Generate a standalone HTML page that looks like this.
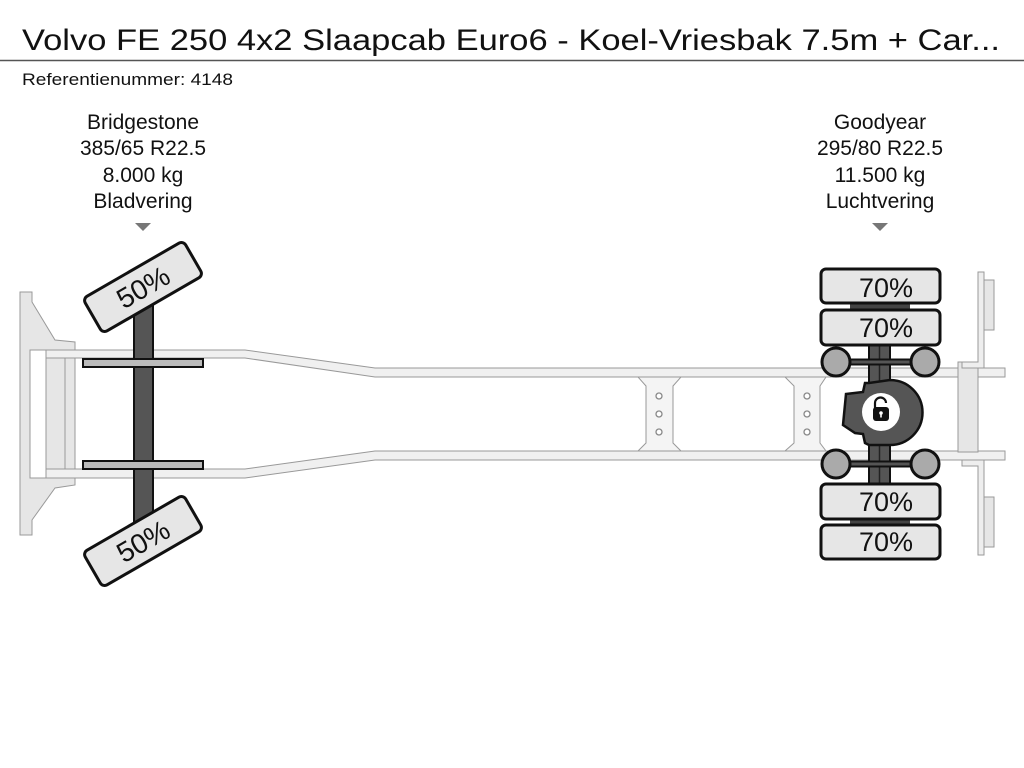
<!DOCTYPE html>
<html><head><meta charset="utf-8"><style>
html,body{margin:0;padding:0;background:#fff;width:1024px;height:768px;overflow:hidden}
svg{display:block}
text{font-family:"Liberation Sans",sans-serif;fill:#111}
</style></head><body>
<svg width="1024" height="768" viewBox="0 0 1024 768">
<text x="22" y="50" font-size="30" textLength="978" lengthAdjust="spacingAndGlyphs">Volvo FE 250 4x2 Slaapcab Euro6 - Koel-Vriesbak 7.5m + Car...</text>
<line x1="0" y1="60.5" x2="1024" y2="60.5" stroke="#555" stroke-width="1.5"/>
<text x="22" y="85" font-size="17" textLength="211" lengthAdjust="spacingAndGlyphs">Referentienummer: 4148</text>

<g font-size="21" text-anchor="middle">
<text x="143" y="129">Bridgestone</text><text x="143" y="155">385/65 R22.5</text><text x="143" y="182">8.000 kg</text><text x="143" y="208">Bladvering</text>
<text x="880" y="129">Goodyear</text><text x="880" y="155">295/80 R22.5</text><text x="880" y="182">11.500 kg</text><text x="880" y="208">Luchtvering</text>
</g>
<polygon points="135,223 151,223 143,231" fill="#777"/>
<polygon points="872,223 888,223 880,231" fill="#777"/>

<polygon points="20,292 32,292 32,302 55,340 75,342 75,485 55,488 32,520 32,535 20,535" fill="#e6e6e6" stroke="#999" stroke-width="1"/>
<rect x="30" y="350" width="16" height="128" fill="#fff" stroke="#999"/>
<rect x="46" y="358" width="19" height="112" fill="#e6e6e6" stroke="#999"/>

<polygon points="46,350 245,350 375,368 1005,368 1005,377 375,377 245,358 46,358" fill="#f0f0f0" stroke="#999"/>
<polygon points="46,469 245,469 375,451 1005,451 1005,460 375,460 245,478 46,478" fill="#f0f0f0" stroke="#999"/>

<polygon points="638,377 681,377 673,386 673,443 681,451 638,451 646,443 646,386" fill="#f4f4f4" stroke="#999"/>
<polygon points="785,377 826,377 820,386 820,443 826,451 785,451 794,443 794,386" fill="#f4f4f4" stroke="#999"/>
<g fill="#fff" stroke="#888" stroke-width="1.3">
<circle cx="659" cy="396" r="3"/><circle cx="659" cy="414" r="3"/><circle cx="659" cy="432" r="3"/>
<circle cx="807" cy="396" r="3"/><circle cx="807" cy="414" r="3"/><circle cx="807" cy="432" r="3"/>
</g>

<rect x="958" y="362" width="20" height="90" fill="#e6e6e6" stroke="#999"/>
<polygon points="978,272 984,272 984,368 962,368 962,362 978,362" fill="#eee" stroke="#999"/>
<polygon points="978,555 984,555 984,460 962,460 962,466 978,466" fill="#eee" stroke="#999"/>
<rect x="984" y="280" width="10" height="50" fill="#e6e6e6" stroke="#999"/>
<rect x="984" y="497" width="10" height="50" fill="#e6e6e6" stroke="#999"/>

<rect x="134" y="300" width="19" height="225" fill="#555" stroke="#111" stroke-width="2"/>
<rect x="83" y="359" width="120" height="8" fill="#bbb" stroke="#111" stroke-width="2"/>
<rect x="83" y="461" width="120" height="8" fill="#bbb" stroke="#111" stroke-width="2"/>
<g transform="translate(143,287) rotate(-30)">
<rect x="-58" y="-20" width="116" height="40" rx="5" fill="#e6e6e6" stroke="#111" stroke-width="3"/>
<text x="0" y="10" font-size="28" text-anchor="middle">50%</text></g>
<g transform="translate(143,541) rotate(-30)">
<rect x="-58" y="-20" width="116" height="40" rx="5" fill="#e6e6e6" stroke="#111" stroke-width="3"/>
<text x="0" y="10" font-size="28" text-anchor="middle">50%</text></g>

<rect x="869" y="300" width="21" height="225" fill="#555" stroke="#111" stroke-width="2"/>
<line x1="879.5" y1="300" x2="879.5" y2="525" stroke="#222" stroke-width="1.5"/>
<rect x="850" y="302" width="60" height="8" fill="#444"/>
<rect x="850" y="518" width="60" height="8" fill="#444"/>
<path d="M869,383 L865,383 L863,392 L846,394 L843,425 L855,433 L863,434 L865,443 L869,445 L890,445 A30,30 0 0 0 890,380 Z" fill="#555" stroke="#111" stroke-width="2.5"/>
<line x1="836" y1="362" x2="925" y2="362" stroke="#111" stroke-width="7"/>
<line x1="836" y1="362" x2="925" y2="362" stroke="#555" stroke-width="3"/>
<line x1="836" y1="464" x2="925" y2="464" stroke="#111" stroke-width="7"/>
<line x1="836" y1="464" x2="925" y2="464" stroke="#555" stroke-width="3"/>
<g fill="#aaa" stroke="#111" stroke-width="3">
<circle cx="836" cy="362" r="14"/><circle cx="925" cy="362" r="14"/>
<circle cx="836" cy="464" r="14"/><circle cx="925" cy="464" r="14"/></g>
<circle cx="881" cy="412" r="19" fill="#fff"/>
<path d="M875,408 v-5 a5.5,5.5 0 0 1 11,0" fill="none" stroke="#111" stroke-width="2.2"/>
<rect x="873" y="407" width="16" height="14" rx="3" fill="#111"/>
<circle cx="881" cy="413" r="1.8" fill="#fff"/><rect x="880.2" y="413" width="1.6" height="4.5" fill="#fff"/>

<g>
<rect x="821" y="269" width="119" height="34" rx="5" fill="#e6e6e6" stroke="#111" stroke-width="3"/>
<rect x="821" y="310" width="119" height="35" rx="5" fill="#e6e6e6" stroke="#111" stroke-width="3"/>
<rect x="821" y="484" width="119" height="35" rx="5" fill="#e6e6e6" stroke="#111" stroke-width="3"/>
<rect x="821" y="525" width="119" height="34" rx="5" fill="#e6e6e6" stroke="#111" stroke-width="3"/>
</g>
<g font-size="27" text-anchor="middle">
<text x="886" y="297">70%</text><text x="886" y="337">70%</text>
<text x="886" y="511">70%</text><text x="886" y="551">70%</text></g>
</svg>
</body></html>
